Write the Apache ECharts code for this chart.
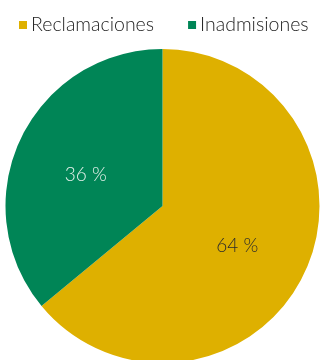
<!DOCTYPE html>
<html>
<head>
<meta charset="utf-8">
<script src="https://cdn.jsdelivr.net/npm/echarts@6/dist/echarts.min.js"></script>
<style>
  html, body { margin: 0; padding: 0; background: #fff; }
  #chart { width: 321px; height: 360px; }
</style>
</head>
<body>
<div id="chart"></div>
<script>
// Share of cases by type
const categories = ['Reclamaciones', 'Inadmisiones'];
const shares = [64, 36];
const sliceColors = ['#DEB000', '#008556'];
const labelColors = ['#2b2b2b', '#e6f2ec'];

const chart = echarts.init(document.getElementById('chart'), null, { renderer: 'canvas' });

const FONT = 'Lato, "Open Sans", sans-serif';

chart.setOption({
  animation: false,
  legend: {
    data: categories,
    orient: 'horizontal',
    top: 10,
    left: 14,
    width: 306,
    itemWidth: 8,
    itemHeight: 8,
    itemGap: 34,
    icon: 'rect',
    textStyle: {
      fontFamily: FONT,
      fontWeight: 300,
      fontSize: 19.5,
      color: '#222',
      padding: [0, 0, 0, -1]
    }
  },
  series: [{
    type: 'pie',
    center: [162.5, 206],
    radius: [0, 157],
    startAngle: 90,
    clockwise: true,
    silent: true,
    label: {
      show: true,
      position: 'inside',
      fontFamily: FONT,
      fontWeight: 300,
      fontSize: 19,
      formatter: p => p.value + ' %'
    },
    labelLine: { show: false },
    data: categories.map((name, i) => ({
      name,
      value: shares[i],
      itemStyle: { color: sliceColors[i] },
      label: { color: labelColors[i], offset: i === 0 ? [1, 5] : [-3, 4] }
    }))
  }]
});
</script>
</body>
</html>
